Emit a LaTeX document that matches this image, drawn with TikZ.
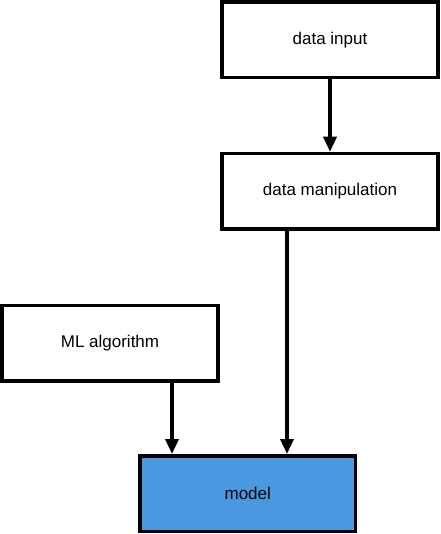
\documentclass[tikz,border=0pt]{standalone}
\usepackage{fontspec}
\setmainfont{Liberation Sans}
\usetikzlibrary{arrows.meta}
\definecolor{modelblue}{HTML}{4A98E0}
\begin{document}
\begin{tikzpicture}[x=1pt,y=-1pt,
  box/.style={draw=black,line width=3.5pt,minimum width=216pt,minimum height=75.5pt,inner sep=0pt,font=\fontsize{17}{20}\selectfont},
  arr/.style={line width=3.5pt,-{Triangle[width=13pt,length=15pt]}}]
\useasboundingbox (0,0) rectangle (440,534);
\node[box] (di) at (330,39.75) {data input};
\node[box] (dm) at (330,191.25) {data manipulation};
\node[box] (ml) at (110,343) {ML algorithm};
\node[box,fill=modelblue,minimum width=215.5pt] (model) at (247.75,493.5) {model};
\draw[arr] (di.south) -- (dm.north);
\draw[arr] ([xshift=-43pt]dm.south) -- ([xshift=-43pt]dm.south |- model.north);
\draw[arr] ([xshift=62pt]ml.south) -- ([xshift=62pt]ml.south |- model.north);
\end{tikzpicture}
\end{document}
